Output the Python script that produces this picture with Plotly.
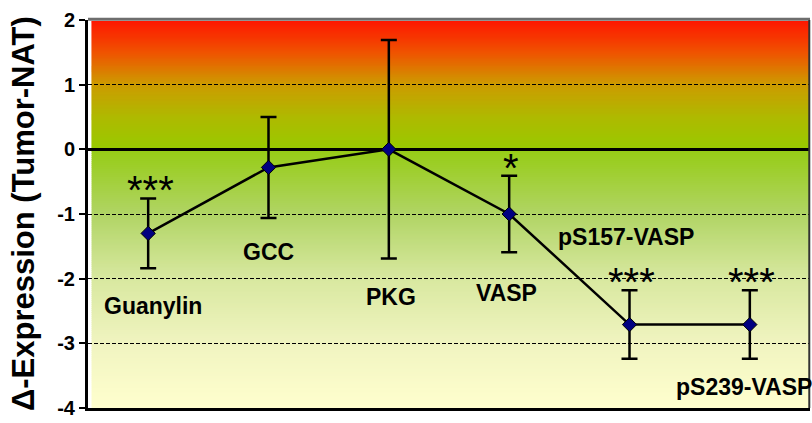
import plotly.graph_objects as go

categories = ["Guanylin", "GCC", "PKG", "VASP", "pS157-VASP", "pS239-VASP"]
values = [-1.30, -0.28, 0.00, -1.00, -2.71, -2.71]
errors = [0.54, 0.78, 1.69, 0.59, 0.53, 0.53]
signif = ["***", "", "", "*", "***", "***"]
label_y = [-2.42, -1.59, -2.28, -2.22, -1.36, -3.68]
label_dx = [5, 0, 2, -3, -4, -6]
y_ticks = [2, 1, 0, -1, -2, -3, -4]
y_title = "Δ-Expression (Tumor-NAT)"

FONT = "Liberation Sans, Arial, sans-serif"

# background gradient stops (value, rgb)
stops_top = [(2.0, (255, 20, 0)), (1.5, (240, 82, 0)), (1.0, (205, 155, 0)),
             (0.5, (175, 185, 0)), (0.0, (152, 202, 0))]
stops_bot = [(0.0, (150, 204, 20)), (-1.0, (176, 212, 100)), (-2.0, (216, 232, 160)),
             (-3.0, (240, 244, 192)), (-4.0, (255, 255, 206))]


def interp(stops, v):
    for (v0, c0), (v1, c1) in zip(stops[:-1], stops[1:]):
        if v1 <= v <= v0:
            t = (v0 - v) / (v0 - v1)
            return tuple(int(round(a + (b - a) * t)) for a, b in zip(c0, c1))
    return stops[-1][1]


shapes = []
for stops, hi, lo, n in [(stops_top, 2.0, 0.0, 130), (stops_bot, 0.0, -4.0, 130)]:
    step = (hi - lo) / n
    for i in range(n):
        y1 = hi - i * step
        y0 = y1 - step
        c = interp(stops, (y0 + y1) / 2)
        shapes.append(dict(type="rect", xref="paper", yref="y", x0=0.005, x1=1,
                           y0=y0 - 0.006, y1=min(y1 + 0.006, 1.985), fillcolor="rgb(%d,%d,%d)" % c,
                           line=dict(width=0), layer="below"))
# top and right frame
shapes.append(dict(type="line", xref="paper", yref="paper", x0=0, x1=1, y0=1.002, y1=1.002,
                   line=dict(color="#6e6e6e", width=3)))
shapes.append(dict(type="line", xref="paper", yref="paper", x0=0.999, x1=0.999, y0=0, y1=1,
                   line=dict(color="#333333", width=2)))

fig = go.Figure()
fig.add_trace(go.Scatter(
    x=categories, y=values, mode="lines+markers",
    line=dict(color="black", width=2.5),
    marker=dict(symbol="diamond", size=11, color="#000080", line=dict(color="black", width=1)),
    error_y=dict(type="data", array=errors, visible=True, color="black", thickness=2.5, width=8),
    showlegend=False, hoverinfo="skip",
))

annotations = []
for cat, lab_y, dx in zip(categories, label_y, label_dx):
    annotations.append(dict(x=cat, y=lab_y, text="<b>%s</b>" % cat, showarrow=False,
                            xshift=dx, font=dict(family=FONT, size=23, color="black")))
for cat, v, e, s in zip(categories, values, errors, signif):
    if s:
        annotations.append(dict(x=cat, y=v + e, text=s, showarrow=False, yanchor="bottom",
                                yshift=-16, xshift=2,
                                font=dict(family=FONT, size=40, color="black")))
annotations.append(dict(xref="paper", yref="paper", x=-0.09, y=0.5, xanchor="center",
                        yanchor="middle", textangle=-90, showarrow=False,
                        text="<b>%s</b>" % y_title,
                        font=dict(family=FONT, size=31, color="black")))

fig.update_layout(
    width=812, height=423,
    margin=dict(l=88, r=2, t=20, b=15),
    paper_bgcolor="white", plot_bgcolor="white",
    shapes=shapes, annotations=annotations,
    font=dict(family=FONT, color="black"),
    xaxis=dict(range=[-0.5, 5.5], showticklabels=False, ticks="", showgrid=False,
               zeroline=False, showline=True, linecolor="black", linewidth=3,
               automargin=False),
    yaxis=dict(range=[-4, 2], tickvals=y_ticks, ticktext=["<b>%d</b>" % t for t in y_ticks],
               tickfont=dict(family=FONT, size=20, color="black"),
               ticks="outside", ticklen=6, tickwidth=2, tickcolor="black",
               showline=True, linecolor="black", linewidth=3, automargin=False,
               showgrid=True, gridcolor="black", gridwidth=1, griddash="4px,2px",
               zeroline=True, zerolinecolor="black", zerolinewidth=2.5),
)

fig.write_html("out.html", config={"displayModeBar": False},
               post_script="document.body.style.margin='0';")
